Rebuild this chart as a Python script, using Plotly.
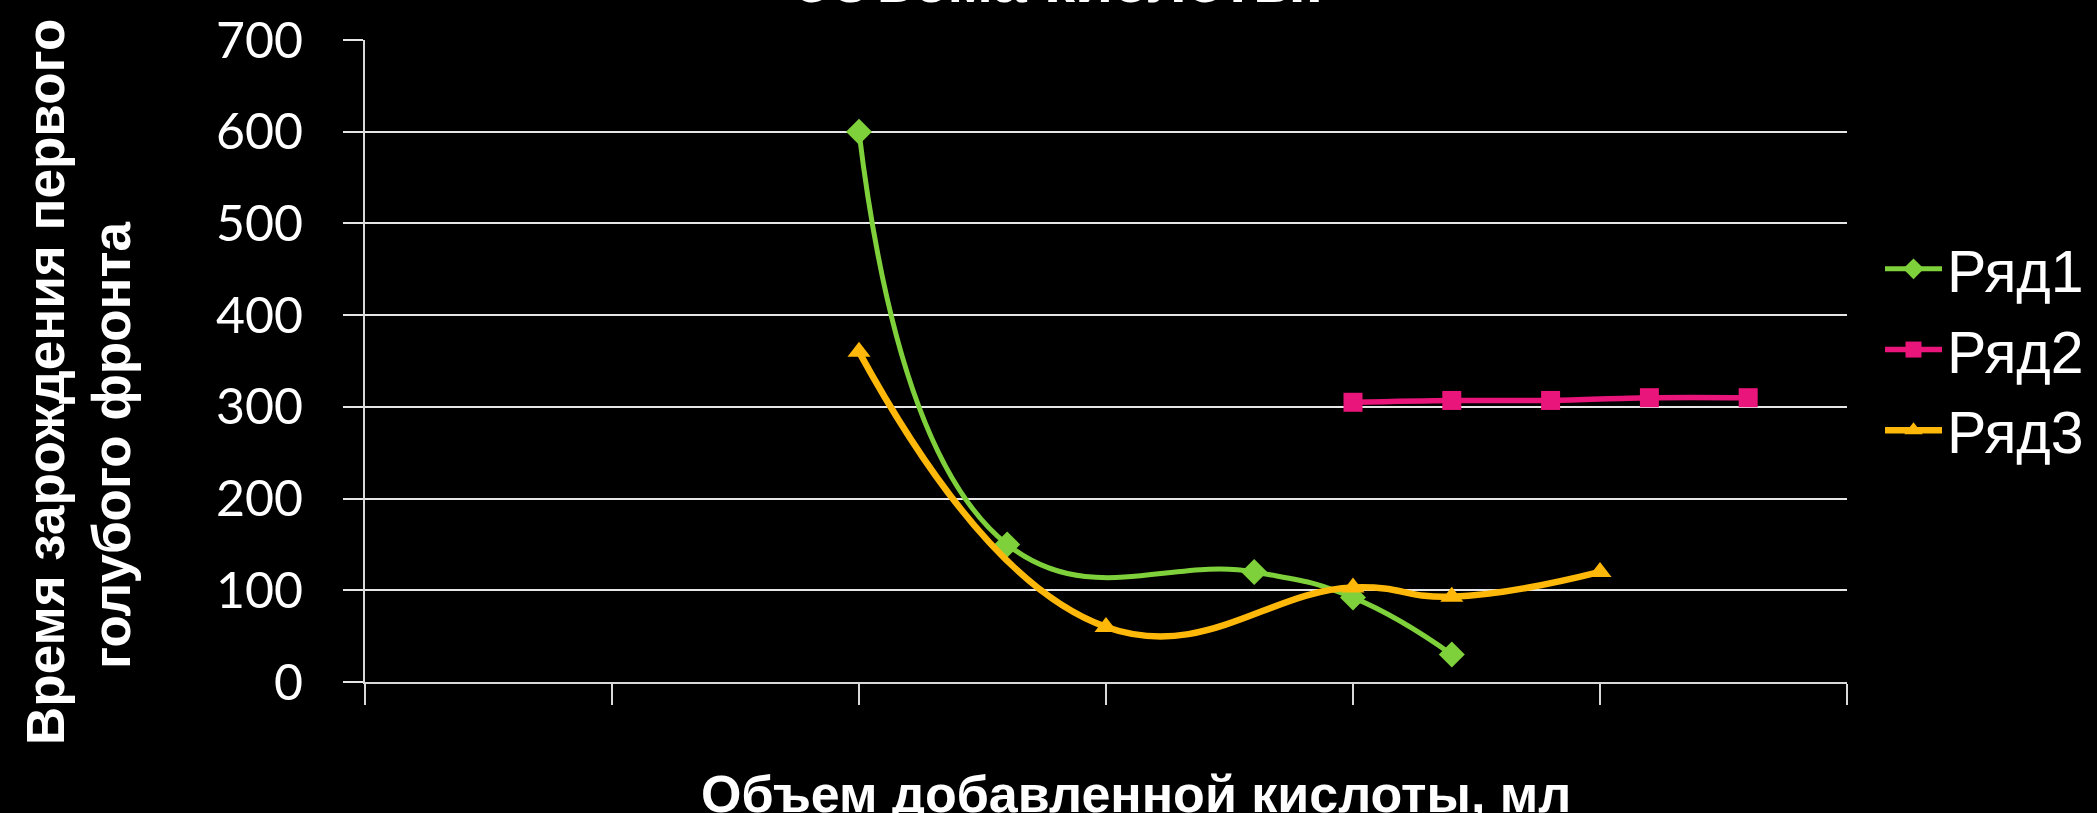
import plotly.graph_objects as go

# ---- data ----
s1_x = [2.0, 2.6, 3.6, 4.0, 4.4]
s1_y = [600, 150, 120, 92, 30]
s2_x = [4.0, 4.4, 4.8, 5.2, 5.6]
s2_y = [305, 307, 307, 310, 310]
s3_x = [2.0, 3.0, 4.0, 4.4, 5.0]
s3_y = [360, 60, 103, 93, 120]
series_names = ["Ряд1", "Ряд2", "Ряд3"]
y_ticks = [0, 100, 200, 300, 400, 500, 600, 700]
x_ticks = [0, 1, 2, 3, 4, 5, 6]

title_text = "объема кислоты."
x_title = "Объем добавленной кислоты, мл"
y_title_1 = "Время зарождения первого"
y_title_2 = "голубого фронта"

GREEN = "#7FD13B"
PINK = "#EA157A"
YELLOW = "#FEB80A"

W, H = 2097, 813
L, R, T, B = 365, 1847, 40, 682

def px(xp):
    return (xp - L) / (R - L)

def py(yp):
    return (B - yp) / (B - T)

fig = go.Figure()
fig.add_trace(go.Scatter(x=s1_x, y=s1_y, name=series_names[0], mode="lines+markers",
                         line=dict(color=GREEN, width=5, shape="spline", smoothing=1.3),
                         marker=dict(symbol="diamond", size=20, color=GREEN),
                         legendgroup="a"))
fig.add_trace(go.Scatter(x=s2_x, y=s2_y, name=series_names[1], mode="lines+markers",
                         line=dict(color=PINK, width=5.5, shape="spline", smoothing=1.0),
                         marker=dict(symbol="square", size=19, color=PINK),
                         legendgroup="b"))
fig.add_trace(go.Scatter(x=s3_x, y=s3_y, name=series_names[2], mode="lines+markers",
                         line=dict(color=YELLOW, width=6.5, shape="spline", smoothing=1.3),
                         marker=dict(symbol="triangle-up", size=20, color=YELLOW),
                         legendgroup="c"))

fig.update_layout(
    width=W, height=H,
    paper_bgcolor="black", plot_bgcolor="black",
    margin=dict(l=L, r=W - R, t=T, b=H - B, pad=0, autoexpand=False),
    font=dict(family="Liberation Sans, Arial, sans-serif", color="white"),
    showlegend=True,
    legend=dict(xref="container", yref="container", x=1880 / W, y=1 - 224 / H,
                xanchor="left", yanchor="top",
                font=dict(size=59, color="white", family="Liberation Sans, Arial, sans-serif"),
                itemwidth=57, tracegroupgap=1, bgcolor="rgba(0,0,0,0)"),
    xaxis=dict(range=[0, 6], tickvals=x_ticks, showticklabels=False,
               showgrid=False, zeroline=False, showline=True, linecolor="#d9d9d9", linewidth=2,
               ticks="outside", ticklen=21, tickwidth=2, tickcolor="#d9d9d9"),
    yaxis=dict(range=[0, 700], tickvals=y_ticks, showgrid=True, gridcolor="#e6e6e6", gridwidth=2,
               zeroline=False, showline=True, linecolor="#d9d9d9", linewidth=2,
               ticks="outside", ticklen=20, tickwidth=2, tickcolor="#e6e6e6",
               ticklabelstandoff=30,
               tickfont=dict(family="Lato, Open Sans, sans-serif", size=50, color="white")),
    annotations=[
        dict(text=title_text, xref="paper", yref="paper", x=px(1058), y=py(-19),
             xanchor="center", yanchor="middle", showarrow=False,
             font=dict(size=62, color="white", family="Liberation Sans, Arial, sans-serif", weight="bold")),
        dict(text=x_title, xref="paper", yref="paper", x=px(1136), y=py(794),
             xanchor="center", yanchor="middle", showarrow=False,
             font=dict(size=52, color="white", family="Liberation Sans, Arial, sans-serif", weight="bold")),
        dict(text=y_title_1, xref="paper", yref="paper", x=px(46), y=py(382), textangle=-90,
             xanchor="center", yanchor="middle", showarrow=False,
             font=dict(size=53, color="white", family="Liberation Sans, Arial, sans-serif", weight="bold")),
        dict(text=y_title_2, xref="paper", yref="paper", x=px(111), y=py(445), textangle=-90,
             xanchor="center", yanchor="middle", showarrow=False,
             font=dict(size=53, color="white", family="Liberation Sans, Arial, sans-serif", weight="bold")),
    ],
)

fig.write_html("out.html")
